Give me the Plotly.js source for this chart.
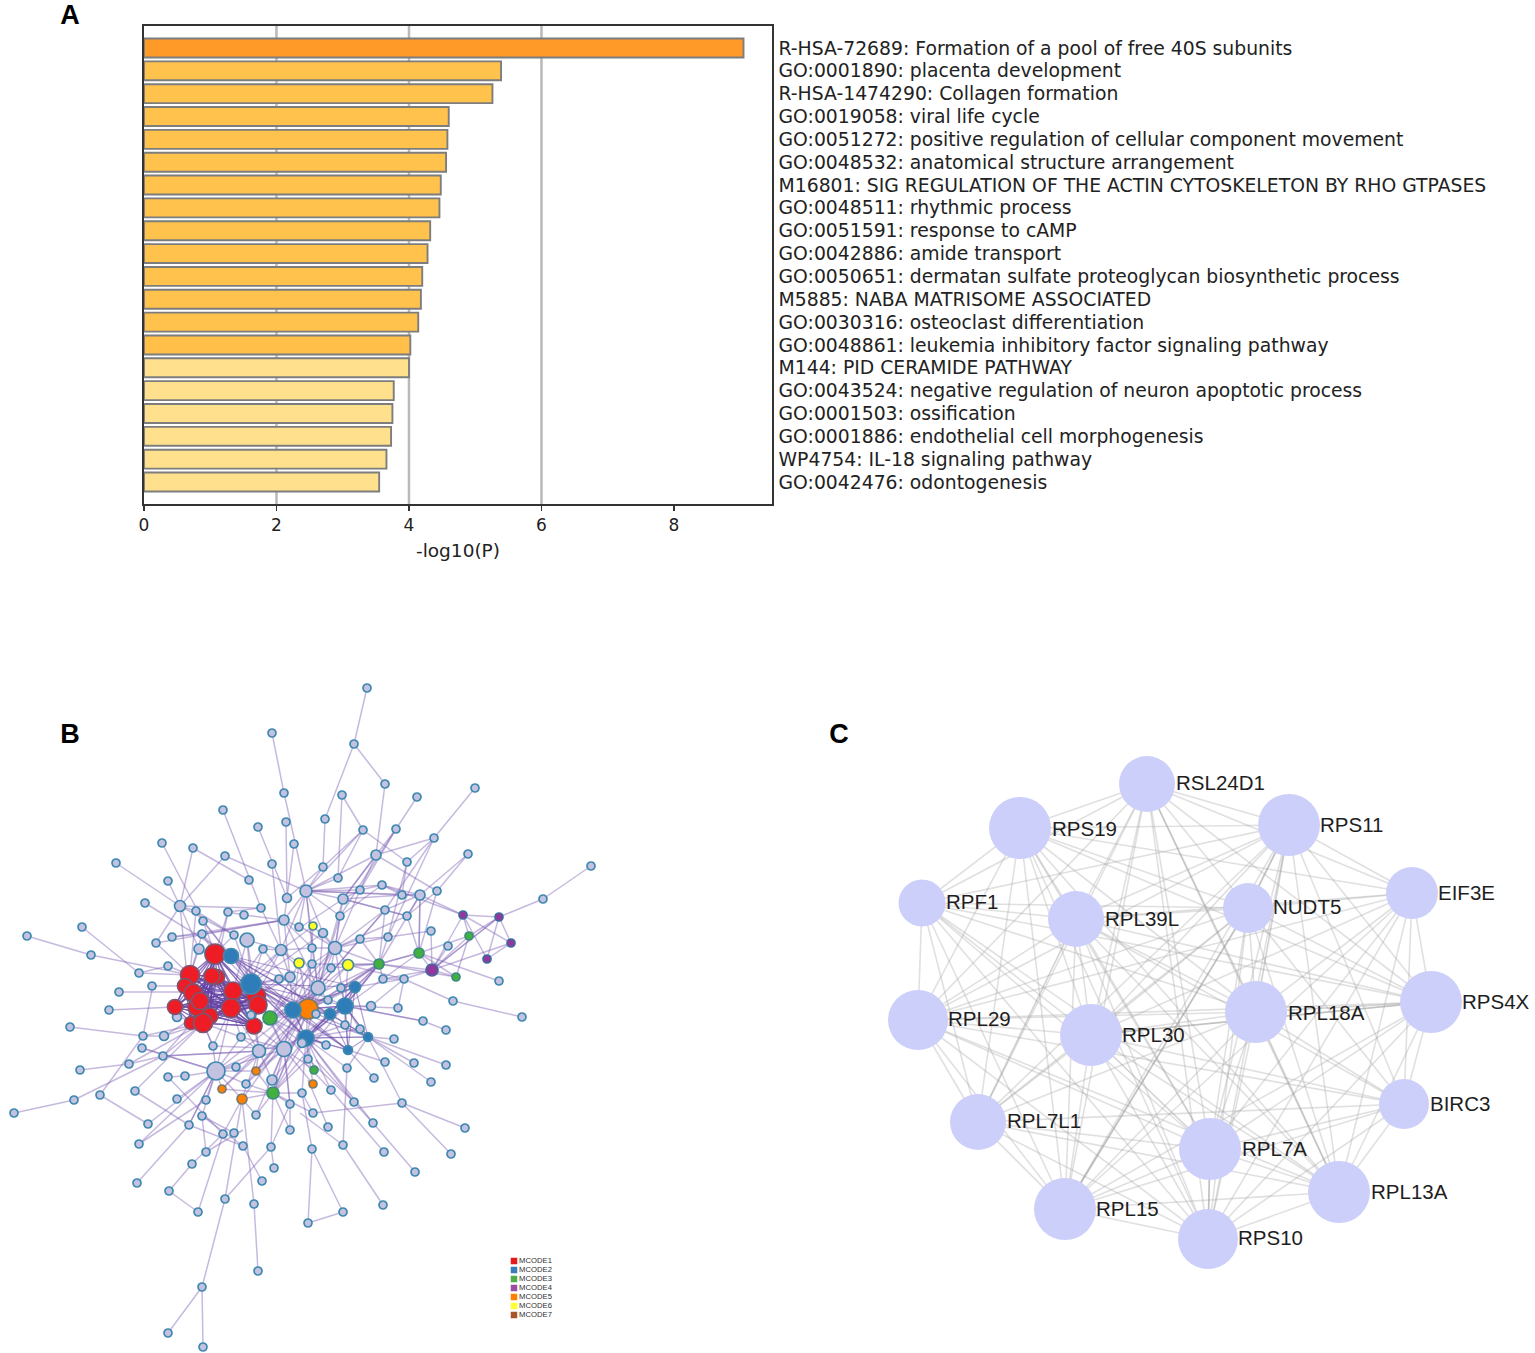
<!DOCTYPE html>
<html><head><meta charset="utf-8">
<script src="https://cdn.plot.ly/plotly-3.0.1.min.js"></script>
<style>html,body{margin:0;padding:0;background:#fff}#chart{width:1535px;height:1353px}</style>
</head><body><div id="chart"></div>
<script>
// ---------- Panel A ----------
const terms = ["R-HSA-72689: Formation of a pool of free 40S subunits","GO:0001890: placenta development","R-HSA-1474290: Collagen formation","GO:0019058: viral life cycle","GO:0051272: positive regulation of cellular component movement","GO:0048532: anatomical structure arrangement","M16801: SIG REGULATION OF THE ACTIN CYTOSKELETON BY RHO GTPASES","GO:0048511: rhythmic process","GO:0051591: response to cAMP","GO:0042886: amide transport","GO:0050651: dermatan sulfate proteoglycan biosynthetic process","M5885: NABA MATRISOME ASSOCIATED","GO:0030316: osteoclast differentiation","GO:0048861: leukemia inhibitory factor signaling pathway","M144: PID CERAMIDE PATHWAY","GO:0043524: negative regulation of neuron apoptotic process","GO:0001503: ossification","GO:0001886: endothelial cell morphogenesis","WP4754: IL-18 signaling pathway","GO:0042476: odontogenesis"];
const logP = [9.05,5.39,5.26,4.60,4.58,4.56,4.48,4.46,4.32,4.28,4.20,4.18,4.14,4.02,4.00,3.77,3.75,3.73,3.66,3.55];
const barColors = ["#FF9A28","#FFC34D","#FFC34D","#FFC34D","#FFC34D","#FFC34D","#FFC34D","#FFC34D","#FFC34D","#FFC34D","#FFC34D","#FFC34D","#FFC34D","#FFBF48","#FFE08C","#FFE08C","#FFE08C","#FFE08C","#FFE08C","#FFE08C"];
const xTicks = [0,2,4,6,8];
const xGridLines = [2,4,6];

// ---------- Panel B: nodes [x, y, diameter] ----------
const grayNodes = [[272,733,8],[284,793,8],[223,810,8],[286,822,8],[258,827,8],[162,843,8],[294,844,8],[193,848,8],[225,856,8],[272,864,8],[116,863,8],[249,880,8],[168,881,8],[287,898,9],[180,906,11],[145,903,8],[196,911,8],[228,912,8],[244,915,8],[261,908,8],[203,921,8],[284,920,10],[299,927,8],[82,927,8],[27,936,8],[156,943,8],[172,937,8],[202,934,8],[234,935,8],[247,940,14],[199,949,10],[263,949,8],[281,950,11],[91,955,8],[168,966,8],[139,973,8],[290,977,10],[279,979,8],[152,986,8],[119,992,8],[109,1010,8],[177,1017,9],[367,688,8],[354,744,8],[385,784,8],[342,795,8],[417,797,8],[475,788,8],[325,819,8],[363,830,8],[396,829,8],[434,838,8],[376,855,10],[468,854,8],[407,862,8],[323,867,8],[591,866,8],[338,878,8],[543,899,8],[306,891,12],[382,885,8],[360,890,8],[420,895,10],[437,891,8],[402,895,8],[343,899,10],[385,910,8],[407,916,8],[340,916,8],[323,933,9],[431,931,8],[360,939,8],[388,937,8],[448,946,8],[312,948,8],[335,948,13],[312,964,8],[331,968,8],[383,979,8],[404,979,8],[499,981,8],[318,988,14],[341,988,8],[328,1000,8],[453,1001,8],[371,1006,9],[398,1008,8],[522,1017,8],[423,1021,8],[446,1030,8],[345,1025,8],[360,1029,8],[326,1045,8],[394,1039,8],[308,1059,8],[385,1062,8],[414,1063,8],[446,1065,8],[347,1068,8],[431,1082,8],[374,1078,8],[302,1093,8],[331,1090,8],[354,1102,8],[402,1103,8],[313,1113,8],[328,1127,8],[373,1123,8],[465,1128,8],[343,1145,8],[312,1149,8],[384,1152,8],[451,1154,8],[415,1172,8],[383,1205,8],[343,1212,8],[308,1223,8],[70,1027,8],[143,1036,8],[164,1036,9],[142,1048,8],[163,1056,8],[129,1064,8],[80,1070,8],[168,1077,8],[185,1076,8],[213,1046,8],[241,1037,8],[259,1051,13],[284,1049,15],[216,1071,18],[236,1067,8],[246,1084,8],[272,1080,10],[135,1091,8],[100,1095,8],[74,1100,8],[14,1113,8],[177,1099,8],[206,1100,8],[148,1124,8],[202,1116,8],[256,1115,8],[290,1104,8],[290,1130,8],[189,1125,8],[139,1144,8],[223,1134,8],[234,1133,8],[243,1146,8],[271,1147,8],[206,1152,8],[192,1164,8],[274,1168,8],[137,1183,8],[262,1181,8],[169,1191,8],[225,1199,8],[254,1204,8],[198,1212,8],[258,1271,8],[202,1287,8],[168,1333,8],[203,1347,8]];
const topGrayNodes = [[251,1015,8],[316,1014,8],[302,1043,9]];
const mcode1 = [[191,1023,13],[215,954,20],[190,975,19],[217,977,15],[212,976,16],[185,986,15],[193,993,18],[233,991,18],[256,996,19],[258,1005,18],[197,1007,18],[200,1001,17],[175,1007,15],[231,1008,19],[210,1016,16],[203,1023,19],[254,1026,16]];
const mcode2 = [[231,956,15],[251,984,20],[293,1010,16],[345,1006,16],[330,1014,11],[306,1038,16],[355,987,11],[348,1050,9],[368,1037,9]];
const mcode3 = [[270,1018,14],[273,1093,12],[379,964,10],[419,953,10],[469,936,8],[456,977,8],[314,1070,8]];
const mcode4 = [[463,915,8],[499,917,8],[511,943,8],[487,959,8],[432,970,12]];
const mcode5 = [[308,1009,20],[256,1071,8],[222,1089,8],[242,1099,10],[313,1084,8]];
const mcode6 = [[313,926,8],[299,963,10],[348,965,11]];
const legendNames = ["MCODE1","MCODE2","MCODE3","MCODE4","MCODE5","MCODE6","MCODE7"];
const legendColors = ["#E41A1C","#377EB8","#4DAF4A","#984EA3","#FF7F00","#FFFF33","#A65628"];

// hub -> spokes, edges of the network
const edgeStars = [
[272,733,[284,793]],[284,793,[306,891]],[286,822,[287,898]],[294,844,[287,898]],[258,827,[287,898]],[272,864,[281,950]],
[223,810,[261,908]],[261,908,[281,950,180,906,228,912]],[162,843,[203,921]],[193,848,[180,906,249,880]],[225,856,[180,906,306,891]],
[116,863,[180,906]],[180,906,[196,911,168,881,156,943,187,975,199,949,234,935]],[196,911,[234,935]],[145,903,[231,956]],[228,912,[217,965]],
[203,921,[231,956,215,954]],[203,921,[222,945]],[244,915,[284,920,228,912]],[284,920,[287,898,202,934,172,937,156,943,299,927,312,948,290,977]],
[172,937,[202,934]],[202,934,[215,954]],[82,927,[139,973]],[27,936,[91,955]],[91,955,[190,975]],[139,973,[190,975,168,966]],[152,986,[185,986]],[119,992,[185,992]],[109,1010,[175,1007]],[234,935,[251,984]],
[190,975,[199,949,156,943,202,934,196,911,168,966]],[215,954,[199,949,228,912,234,935]],[175,1007,[177,1017]],
[203,1023,[164,1036,143,1036,213,1046,177,1017,163,1056,241,1037,135,1091,129,1064]],[233,991,[247,940,263,949,279,979,281,950]],
[231,1008,[241,1037,213,1046,251,1015,259,1051,216,1071]],[254,1026,[241,1037,251,1015]],[256,996,[290,977,279,979,281,950,247,940]],
[367,688,[354,744]],[354,744,[385,784,325,819]],[385,784,[376,855]],[342,795,[363,830,338,878]],[417,797,[396,829]],[396,829,[360,890,340,916,343,899]],[475,788,[434,838]],[434,838,[376,855,407,862,385,910,388,937]],
[325,819,[323,867]],[323,867,[306,891,287,898]],[363,830,[323,867,338,878,407,862,306,891]],[376,855,[306,891,437,891,343,899,360,890]],[407,862,[402,895,388,937]],[388,937,[379,964,431,931,360,939]],
[468,854,[420,895,437,891]],[437,891,[419,953,407,916]],[420,895,[402,895,385,910,407,916,419,953,379,964,463,915]],[591,866,[543,899]],[543,899,[499,917]],
[499,917,[463,915,511,943,487,959,432,970]],[499,917,[469,936,432,970]],[511,943,[487,959,432,970,463,915]],[463,915,[487,959,432,970,469,936]],[382,885,[402,895,420,895,463,915,360,890,340,916]],
[343,899,[385,910,407,916,402,895,360,890,301,927]],[385,910,[407,916,360,939]],[469,936,[419,953,456,977,432,970]],[419,953,[379,964,407,916,456,977,499,981,420,895]],[419,953,[379,964,345,1006]],[379,964,[456,977]],
[432,970,[431,931,448,946,456,977,419,953,383,979,404,979,379,964]],[404,979,[453,1001,383,979,348,965,355,987,371,1006,398,1008]],[453,1001,[522,1017]],
[251,984,[231,956,247,940,281,950,290,977,293,1010,259,1051,284,1049,270,1018,202,934,263,949,233,991,258,1005,306,1038,308,1009,323,933,199,949]],
[293,1010,[312,964,331,968,299,963,348,965,335,948,290,977,318,988,345,1006,330,1014,306,1038,355,987,256,996,254,1026,270,1018,284,1049,259,1051,216,1071]],
[308,1009,[313,926,299,963,348,965,335,948,379,964,341,988,328,1000,355,987,345,1006,330,1014,306,1038,256,1071,242,1099,222,1089,273,1093,246,1084,263,949]],
[345,1006,[335,948,348,965,341,988,355,987,371,1006,398,1008,423,1021,330,1014,306,1038,368,1037,348,1050,345,1025,360,1029,379,964,302,1043]],
[318,988,[306,891,284,920,281,950,323,933,312,948,340,916,385,910,360,939,343,899,328,1000,306,1038,284,1049,259,1051,270,1018,273,1093,256,1071]],
[284,1049,[241,1037,213,1046,254,1026,270,1018,306,1038,314,1070,313,1084,273,1093,272,1080,246,1084,256,1071,216,1071,330,1014,345,1006,290,1104,256,1115]],
[259,1051,[241,1037,254,1026,236,1067,216,1071,256,1071,272,1080,242,1099,222,1089,163,1056,306,1038]],
[306,1038,[326,1045,345,1025,360,1029,368,1037,348,1050,308,1059,302,1093,331,1090,354,1102,373,1123,347,1068,314,1070,313,1084,272,1080,273,1093]],
[216,1071,[241,1037,222,1089,242,1099,202,1116,189,1125,177,1099,236,1067,256,1071,246,1084,139,1144,206,1100,185,1076,148,1124,142,1048,213,1046]],
[270,1018,[312,964,299,963,335,948,379,964,302,1043,308,1059,316,1014,326,1045]],
[273,1093,[242,1099,222,1089,256,1071,302,1093,290,1104,256,1115,308,1059,313,1113,290,1130,246,1084,379,964]],
[379,964,[335,948,348,965,360,939,385,910,355,987,383,979,312,964,331,968,341,988,345,1006,328,1000,306,1038]],
[306,891,[281,950,284,920,299,927,323,933,312,948,343,899,360,890,382,885,402,895,340,916,338,878,420,895]],
[335,948,[343,899,385,910,407,916,360,890,340,916,323,933,360,939,388,937,348,965,331,968,312,964,312,948,301,927,313,926]],
[281,950,[263,949,290,977,247,940,299,963,312,948,313,926]],
[70,1027,[143,1036]],[143,1036,[164,1036,152,990,100,1095]],[142,1048,[216,1071]],[164,1036,[190,1020]],[80,1070,[129,1064]],[129,1064,[163,1056]],[14,1113,[74,1100]],[74,1100,[163,1056]],[163,1056,[259,1051,190,1025]],
[135,1091,[189,1125]],[189,1125,[243,1146,137,1183,216,1071]],[100,1095,[148,1124]],[168,1077,[185,1076,223,1134]],[139,1144,[206,1100]],[213,1046,[203,1023]],
[206,1152,[202,1116,243,1130]],[192,1164,[223,1134,169,1191]],[169,1191,[198,1212]],[198,1212,[223,1134]],[223,1134,[242,1099]],[234,1133,[202,1116]],[225,1199,[271,1147,242,1099,202,1287]],[202,1287,[168,1333,203,1347]],
[254,1204,[258,1271,242,1099]],[262,1181,[243,1146]],[202,1116,[243,1146]],[274,1168,[271,1147]],[271,1147,[273,1093,290,1104]],[256,1115,[242,1099]],[290,1104,[284,1049]],[290,1130,[290,1104]],
[446,1030,[423,1021]],[423,1021,[345,1006]],[446,1065,[368,1037]],[414,1063,[368,1037]],[431,1082,[368,1037]],[394,1039,[368,1037]],[385,1062,[348,1050]],[374,1078,[348,1050]],[347,1068,[368,1037]],[402,1103,[368,1037,313,1113,465,1128,451,1154]],
[354,1102,[316,1060,373,1123,308,1059]],[415,1172,[373,1123]],[384,1152,[331,1090]],[331,1090,[302,1060]],[343,1145,[347,1068,383,1205,300,1113]],[312,1149,[308,1223,343,1212,302,1093]],[308,1223,[343,1212]],[328,1127,[308,1080]],[313,1113,[302,1093]]
];

// ---------- Panel C ----------
const ppiNames = ["RSL24D1","RPS19","RPS11","RPF1","RPL39L","NUDT5","EIF3E","RPL29","RPL30","RPL18A","RPS4X","RPL7L1","BIRC3","RPL7A","RPL13A","RPL15","RPS10"];
const ppiX = [1147,1020,1289,922,1076,1248,1412,918,1091,1256,1431,978,1404,1210,1339,1065,1208];
const ppiY = [784,828,825,903,919,908,893,1020,1035,1012,1002,1122,1104,1149,1192,1209,1239];
const ppiRadius = [28,31,31,23.5,28,25,26,30,31,31,31,28,25,31,31,31,30];
const ppiLabelX = [1176,1052,1320,946,1105,1273,1438,948,1122,1288,1462,1007,1430,1242,1371,1096,1238];
const ppiLabelY = [785,831,827,904,921,909,895,1021,1037,1015,1004,1123,1106,1151,1194,1211,1240];
// neighbours of each node (higher index only)
const ppiThin = [[1,2,3,4,5,6,7,8,10,11,13,14,15,16],[2,3,4,5,6,7,8,9,10,11,13,14,15,16],[3,4,5,6,7,8,10,11,12,13,14,15,16],[4,5,7,8,9,10,11,13,14,15,16],[5,6,7,8,9,10,12,13,14,15,16],[6,7,8,9,10,11,12,13,14,15,16],[7,8,9,10,12,13,14,15,16],[8,9,10,11,12,13,14,15,16],[9,10,11,12,14,15,16],[11,12,13,15,16],[12,13,14,15,16],[12,13,14,15,16],[13,14,15,16],[14,15,16],[15,16],[16],[]];
const ppiThick = [[0,9],[2,9],[9,14],[8,13],[4,11],[5,15],[9,10],[8,10],[13,16],[2,5]];

const traces = [];
// bars
traces.push({type:"bar",orientation:"h",x:logP,y:terms,xaxis:"x",yaxis:"y",width:0.83,
  marker:{color:barColors,line:{color:"#7d7d7d",width:1.9}},hoverinfo:"skip"});

const overlay = {xaxis:"x2",yaxis:"y2",hoverinfo:"skip",showlegend:false};
// B edges (one trace per hub so overlaps build up like the original)
edgeStars.forEach(s=>{
  const xs=[],ys=[];
  for(let i=0;i<s[2].length;i+=2){xs.push(s[0],s[2][i],null);ys.push(s[1],s[2][i+1],null);}
  traces.push({...overlay,type:"scatter",mode:"lines",x:xs,y:ys,line:{color:"rgba(125,95,180,0.44)",width:1.5}});
});
// MCODE clusters are densely connected
[mcode1,mcode1,mcode2].forEach((grp,g)=>{
  grp.forEach((a,i)=>{
    const xs=[],ys=[];
    grp.slice(i+1).forEach(b=>{xs.push(a[0],b[0],null);ys.push(a[1],b[1],null);});
    if(xs.length) traces.push({...overlay,type:"scatter",mode:"lines",x:xs,y:ys,line:{color:"rgba(100,65,165,0.5)",width:1.2}});
  });
});
function nodeTrace(nodes,fill,border){
  return {...overlay,type:"scatter",mode:"markers",x:nodes.map(n=>n[0]),y:nodes.map(n=>n[1]),
    marker:{size:nodes.map(n=>n[2]),color:fill,opacity:1,line:{color:border,width:1.7}}};
}
traces.push(nodeTrace(grayNodes,"#C3C3E1","#3F88B0"));
traces.push(nodeTrace(mcode5,"#FF8000","#7A7A70"));
traces.push(nodeTrace(mcode6,"#FFFF26","#4A8A9A"));
traces.push(nodeTrace(mcode3,"#41B03F","#3C8A80"));
traces.push(nodeTrace(mcode4,"#93379C","#3C6AA0"));
traces.push(nodeTrace(mcode1,"#EE1C24","#7E5570"));
traces.push(nodeTrace(mcode2,"#2F7DB8","#3F88B0"));
traces.push(nodeTrace(topGrayNodes,"#C3C3E1","#3F88B0"));
// B legend
traces.push({...overlay,type:"scatter",mode:"markers+text",x:legendNames.map(()=>514),y:legendNames.map((_,i)=>1261+i*9),
  text:legendNames,textposition:"middle right",textfont:{family:"Liberation Sans",size:7.7,color:"#333"},
  marker:{symbol:"square",size:6.5,color:legendColors,opacity:1}});

// C edges
ppiThin.forEach((nbrs,i)=>{
  const xs=[],ys=[];
  nbrs.forEach(j=>{xs.push(ppiX[i],ppiX[j],null);ys.push(ppiY[i],ppiY[j],null);});
  if(xs.length) traces.push({...overlay,type:"scatter",mode:"lines",x:xs,y:ys,line:{color:"rgba(170,170,170,0.36)",width:1.6}});
});
ppiThick.forEach(p=>{
  traces.push({...overlay,type:"scatter",mode:"lines",x:[ppiX[p[0]],ppiX[p[1]]],y:[ppiY[p[0]],ppiY[p[1]]],line:{color:"rgba(150,150,150,0.42)",width:1.7}});
});
traces.push({...overlay,type:"scatter",mode:"markers",x:ppiX,y:ppiY,marker:{size:ppiRadius.map(r=>2*r),color:"#CDCFFB",opacity:1,line:{width:0}}});
traces.push({...overlay,type:"scatter",mode:"text",x:ppiLabelX,y:ppiLabelY,text:ppiNames,textposition:"middle right",
  textfont:{family:"Liberation Sans",size:20.5,color:"#1e1e1e"}});
// panel letters
traces.push({...overlay,type:"scatter",mode:"text",x:[70,70,839],y:[17,736,736],text:["<b>A</b>","<b>B</b>","<b>C</b>"],textposition:"middle center",
  textfont:{family:"Liberation Sans",size:27,color:"#000"}});

const W=1535,H=1353;
const layout = {
  width:W,height:H,margin:{l:0,r:0,t:0,b:0},paper_bgcolor:"#fff",plot_bgcolor:"rgba(0,0,0,0)",showlegend:false,bargap:0,
  shapes:xGridLines.map(v=>({type:"line",layer:"below",xref:"x",yref:"y domain",x0:v,x1:v,y0:0,y1:1,line:{color:"#b9b9b9",width:2.5}})),
  xaxis:{domain:[144/W,772/W],range:[0,9.48],anchor:"y",tickvals:xTicks,ticks:"outside",ticklen:5,tickwidth:1.5,tickcolor:"#333",
    showgrid:false,zeroline:false,showline:true,linecolor:"#333",linewidth:1.8,mirror:true,
    tickfont:{family:"DejaVu Sans",size:17,color:"#222"},
    title:{text:"-log10(P)",font:{family:"DejaVu Sans",size:18.5,color:"#222"},standoff:10}},
  yaxis:{domain:[1-504/H,1-26/H],anchor:"x",side:"right",type:"category",categoryorder:"array",categoryarray:terms,range:[19.963,-0.963],
    tickmode:"array",tickvals:terms,ticktext:terms,
    ticks:"",showgrid:false,zeroline:false,showline:true,linecolor:"#333",linewidth:1.8,mirror:true,automargin:false,
    tickfont:{family:"DejaVu Sans",size:18.8,color:"#222"},ticklabelstandoff:1},
  xaxis2:{domain:[0,1],range:[0,W],anchor:"y2",visible:false,fixedrange:true},
  yaxis2:{domain:[0,1],range:[H,0],anchor:"x2",visible:false,fixedrange:true}
};
Plotly.newPlot("chart",traces,layout,{displayModeBar:false,staticPlot:true});
</script></body></html>
